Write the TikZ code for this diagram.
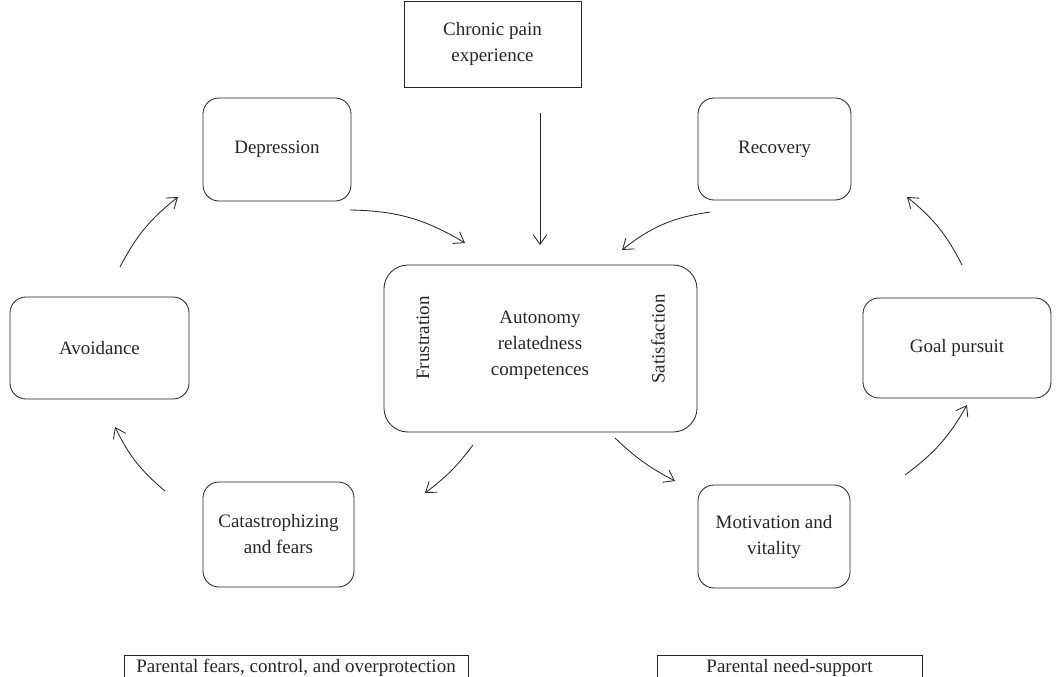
\documentclass[tikz,border=0pt]{standalone}
\usepackage{fontspec}
\setmainfont{Liberation Serif}
\usetikzlibrary{arrows.meta}

\begin{document}
\begin{tikzpicture}[x=0.025cm,y=0.025cm,
  txt/.style={font=\fontsize{13.5}{18.5}\selectfont,text=black!85},
  box/.style={txt,draw=black!85,line width=0.6pt,align=center,inner sep=2pt},
  rbox/.style={box,rounded corners=0.4cm},
  arr/.style={draw=black!85,line width=0.6pt,-{Straight Barb[length=2.4mm,width=3.4mm]}}]
\useasboundingbox (0,0) rectangle (1061,677);
\clip (0,0) rectangle (1061,677);

\node[box,minimum width=4.425cm,minimum height=2.15cm] (pain) at (492.5,633) {Chronic pain\\experience};
\node[rbox,minimum width=3.7cm,minimum height=2.575cm] (dep) at (277,527.5) {Depression};
\node[rbox,minimum width=3.825cm,minimum height=2.55cm] (rec) at (774.5,528) {Recovery};
\node[rbox,minimum width=4.475cm,minimum height=2.55cm] (avo) at (99.5,329) {Avoidance};
\node[rbox,rounded corners=0.6cm,minimum width=7.825cm,minimum height=4.175cm] (need) at (540.5,328.5) {};
\node[txt,align=center] (comp) at (540,332) {Autonomy\\relatedness\\competences};
\node[txt,rotate=90] (frus) at (423,339) {Frustration};
\node[txt,rotate=90] (sat) at (658,338) {Satisfaction};
\node[rbox,minimum width=4.7cm,minimum height=2.5cm] (goal) at (957,329) {Goal pursuit};
\node[rbox,minimum width=3.775cm,minimum height=2.625cm] (cat) at (278.5,142.5) {Catastrophizing\\and fears};
\node[rbox,minimum width=3.8cm,minimum height=2.575cm] (mot) at (774,140.5) {Motivation and\\vitality};
\node[box,minimum width=8.6cm,minimum height=0.65cm] (fears) at (296,9) {Parental fears, control, and overprotection};
\node[box,minimum width=6.625cm,minimum height=0.65cm] (supp) at (789.5,9) {Parental need-support};

% arrow ends
\coordinate (p1) at (540,564); \coordinate (p2) at (540,432);
\coordinate (d1) at (350,467); \coordinate (d2) at (465,434);
\coordinate (r1) at (710,465); \coordinate (r2) at (622,427);
\coordinate (a1) at (120,410); \coordinate (a2) at (178,480);
\coordinate (c1) at (165,186); \coordinate (c2) at (115,250);
\coordinate (n1) at (473,232); \coordinate (n2) at (425,184);
\coordinate (m1) at (615,239); \coordinate (m2) at (675,196);
\coordinate (g1) at (905,202); \coordinate (g2) at (967,272);
\coordinate (e1) at (962,412); \coordinate (e2) at (907,480);

\draw[arr] (p1) -- (p2);
\draw[arr] (d1) to[bend left=15] (d2);
\draw[arr] (r1) to[bend right=15] (r2);
\draw[arr] (a1) to[bend left=12] (a2);
\draw[arr] (c1) to[bend left=12] (c2);
\draw[arr] (n1) to[bend left=8] (n2);
\draw[arr] (m1) to[bend right=8] (m2);
\draw[arr] (g1) to[bend right=12] (g2);
\draw[arr] (e1) to[bend right=12] (e2);
\end{tikzpicture}
\end{document}
